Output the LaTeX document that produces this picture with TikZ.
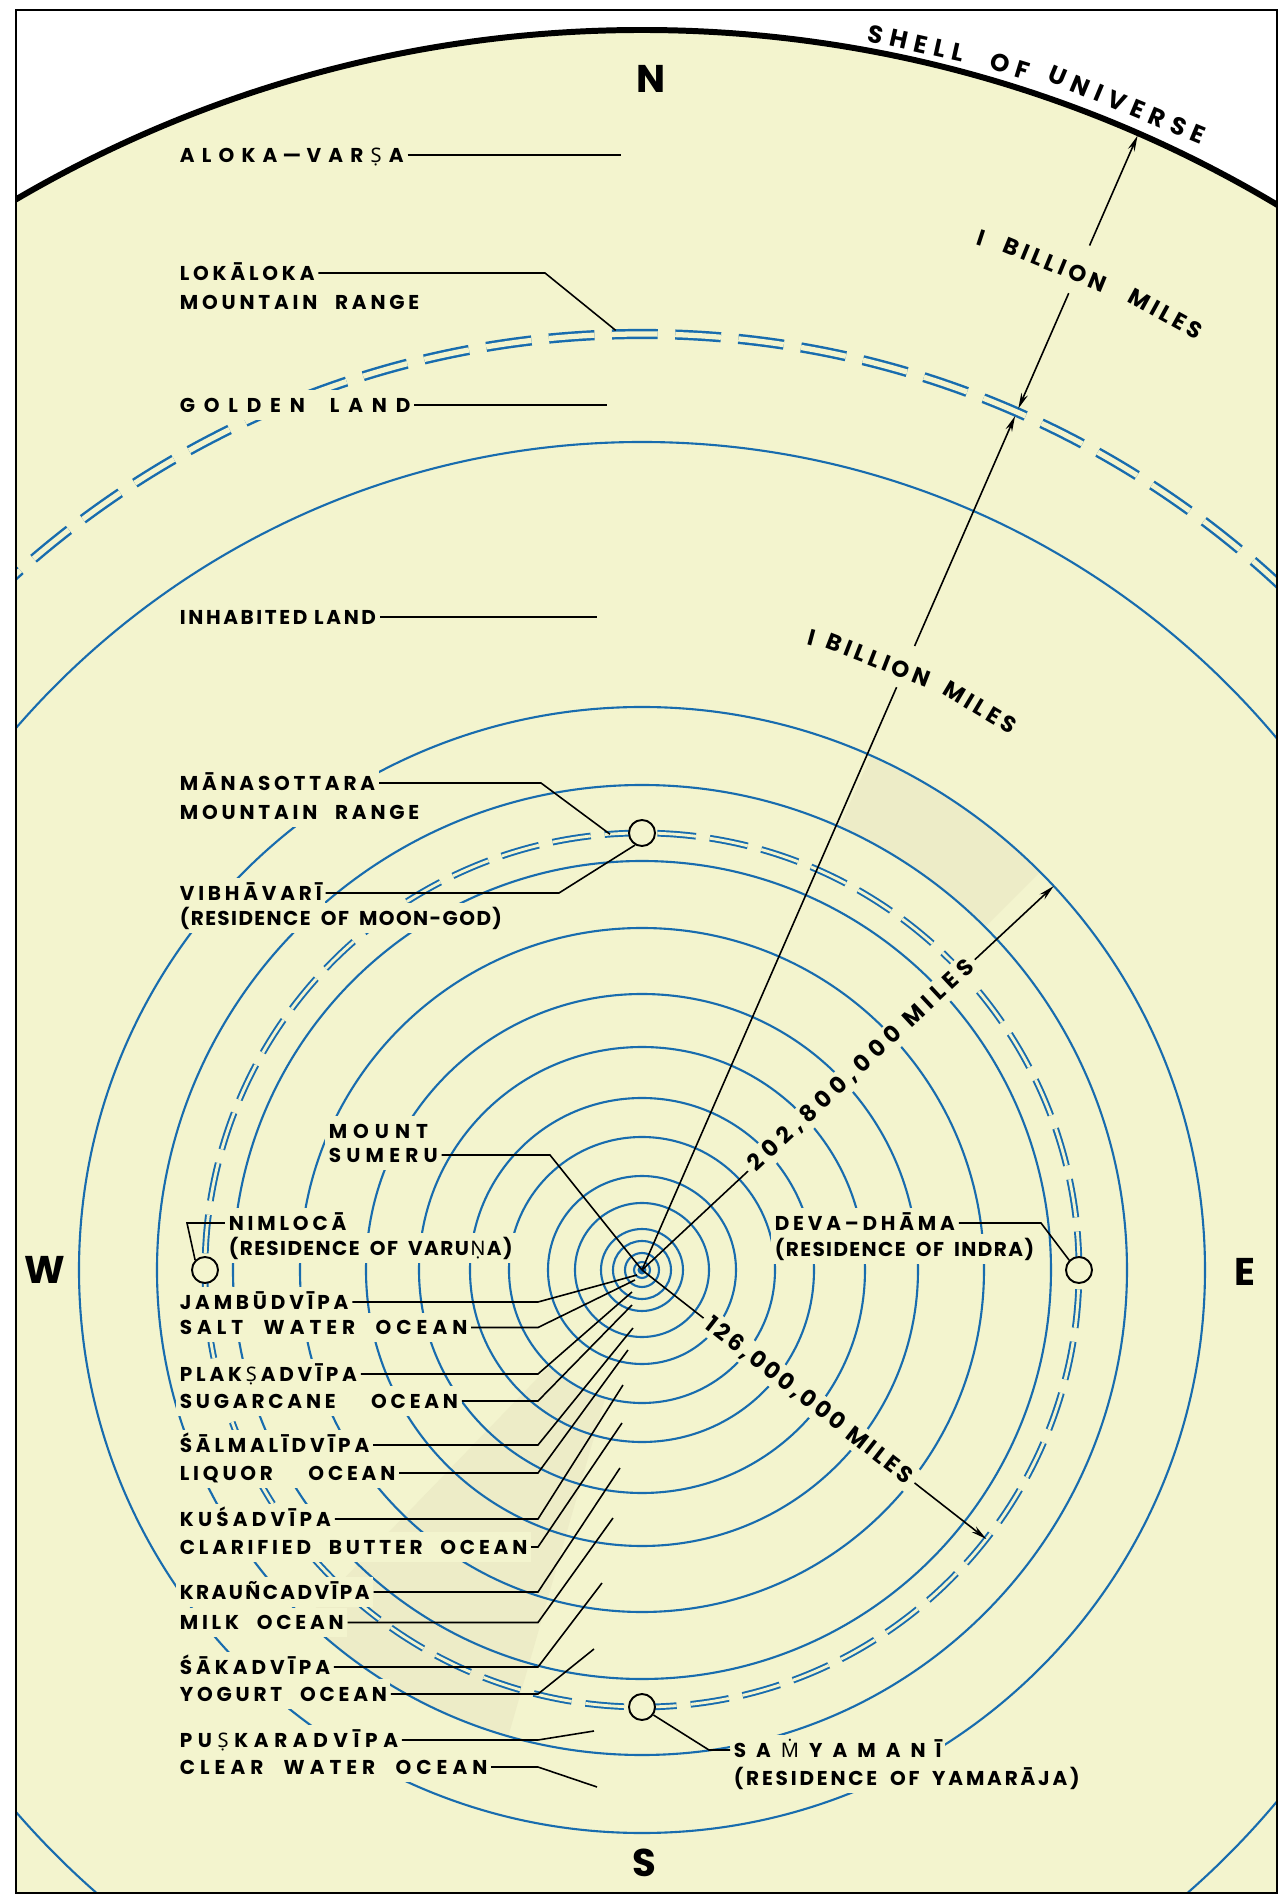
\documentclass[tikz,border=0pt]{standalone}
\usepackage{fontspec}
\setmainfont{Poppins}
\newfontfamily\lblfam{Poppins}[LetterSpace=19,WordSpace=2.2]
\newfontfamily\parenfam{Poppins}[LetterSpace=7,WordSpace=1.8]
\newfontfamily\inhabfam{Poppins}[LetterSpace=13]
\newfontfamily\arcfam{Poppins}[LetterSpace=17]
\newfontfamily\shellfam{Poppins}[LetterSpace=28]
\newfontfamily\dotfam{Noto Sans}
\usetikzlibrary{arrows.meta}

\definecolor{paper}{RGB}{243,244,206}
\definecolor{ringblue}{RGB}{24,108,174}
\definecolor{tone}{RGB}{237,236,199}

\newcommand{\lblfont}{\lblfam\fontsize{11.4}{13}\bfseries}
\newcommand{\parenfont}{\parenfam\fontsize{11.4}{13}\bfseries}
\newcommand{\inhabfont}{\inhabfam\fontsize{11.4}{13}\bfseries}
\newcommand{\compassfont}{\fontsize{22}{24}\bfseries}
\newcommand{\milesfont}{\fontsize{13}{15}\bfseries}
\newcommand{\arcfont}{\arcfam\fontsize{13}{15}\bfseries}
\newcommand{\shellfont}{\shellfam\fontsize{14}{16}\bfseries}
% letter with a dot, set in Noto Sans, spaced like its neighbours
\newcommand{\dotglyph}[2]{\kern#1{\dotfam #2}\kern#1}

\tikzset{
  lbl/.style={font=\lblfont, fill=paper, anchor=west, inner xsep=2pt, inner ysep=4.5pt, text height=8pt, text depth=0pt},
  parenlbl/.style={lbl, font=\parenfont},
  leader/.style={line width=0.9pt},
  ringline/.style={draw=ringblue, line width=1.2pt},
  residence/.style={circle, draw, fill=paper, line width=1.1pt, minimum size=0.52cm, inner sep=0pt},
  miles/.style={fill=paper, inner xsep=3pt, inner ysep=2pt},
  arcword/.style={font=\arcfont, inner sep=0pt, text height=9pt, text depth=0pt},
  shellword/.style={font=\shellfont, inner sep=0pt, text height=9.8pt, text depth=0pt},
  miletip/.style={-{Stealth[length=9pt,width=4pt]}}
}

\begin{document}
\begin{tikzpicture}[x=0.02cm,y=0.02cm]
  \useasboundingbox (-642,-627) rectangle (646,1270);
  \fill[white] (-642,-627) rectangle (646,1270);
  \coordinate (C) at (0,0);

  % the universe: rings, mountain ranges, shell
  \begin{scope}
    \clip (-626,-623) rectangle (635,1260);
    \fill[paper] (C) circle[radius=1238];
    \fill[tone] (45:485) arc[start angle=45,end angle=66,radius=485] -- (66:563) arc[start angle=66,end angle=45,radius=563] -- cycle;
    \fill[tone] (226:133) arc[start angle=226,end angle=254,radius=133] -- (254:485) arc[start angle=254,end angle=226,radius=485] -- cycle;
    \foreach \r in {8,17,29,41,67,94,133,172,223,276,342,409,485,563,828}
      \draw[ringline] (C) circle[radius=\r];
    \draw[ringblue, line width=1.1pt, double=paper, double distance=1.6pt, dash pattern=on 22pt off 8pt] (C) circle[radius=437];
    \draw[ringblue, line width=1.4pt, double=paper, double distance=3pt, dash pattern=on 26pt off 10pt] (C) circle[radius=936];
    \draw[line width=3.4pt] (C) circle[radius=1240];
  \end{scope}
  \draw[line width=0.9pt] (-626,-623) rectangle (635,1260);
  \fill[ringblue] (C) circle[radius=4.5];

  \node[residence] (vib) at (90:437) {};
  \node[residence] (nim) at (180:437) {};
  \node[residence] (deva) at (0:437) {};
  \node[residence] (yama) at (270:437) {};

  \node[font=\compassfont] (cN) at (9,1191) {N};
  \node[font=\compassfont] (cW) at (-597,0) {W};
  \node[font=\compassfont] (cE) at (603,-2) {E};
  \node[font=\compassfont] (cS) at (2,-593) {S};

  % labels above the centre
  \node[lbl, font=\lblfont\addfontfeature{LetterSpace=36}] (aloka) at (-466,1115) {ALOKA\kern3pt—\kern3pt VAR\dotglyph{4.1pt}{Ṣ}A};
  \coordinate (t-aloka) at (-21,1115);
  \draw[leader] (aloka.east) -- (t-aloka);

  \node[lbl] (loka1) at (-466,997) {LOKĀLOKA};
  \node[lbl] (loka2) at (-466,968) {MOUNTAIN RANGE};
  \coordinate (k-loka) at (-97,0);
  \coordinate (t-loka) at (91.6:940);
  \draw[leader] (loka1.east) -- (loka1.east -| k-loka) -- (t-loka);

  \node[lbl, font=\lblfont\addfontfeature{LetterSpace=44}] (golden) at (-466,865) {GOLDEN\hspace{1.25em}LAND};
  \coordinate (t-golden) at (-35,865);
  \draw[leader] (golden.east) -- (t-golden);

  \node[lbl, font=\inhabfont] (inhab) at (-466,653) {INHABITED LAND};
  \coordinate (t-inhab) at (-45,653);
  \draw[leader] (inhab.east) -- (t-inhab);

  \node[lbl] (manasa1) at (-466,487) {MĀNASOTTARA};
  \node[lbl] (manasa2) at (-466,458) {MOUNTAIN RANGE};
  \coordinate (k-manasa) at (-101,0);
  \coordinate (t-manasa) at (94.2:437);
  \draw[leader] (manasa1.east) -- (manasa1.east -| k-manasa) -- (t-manasa);

  \node[lbl] (vibh1) at (-466,377) {VIBHĀVARĪ};
  \node[parenlbl] (vibh2) at (-466,352) {(RESIDENCE OF MOON-GOD)};
  \coordinate (k-vibh) at (-83,0);
  \draw[leader] (vibh1.east) -- (vibh1.east -| k-vibh) -- (vib.240);

  \node[lbl, font=\lblfont\addfontfeature{LetterSpace=30}] (sumeru1) at (-317,139) {MOUNT};
  \node[lbl, font=\lblfont\addfontfeature{LetterSpace=26}] (sumeru2) at (-317,115) {SUMERU};
  \coordinate (k-sumeru) at (-92,0);
  \draw[leader] (sumeru2.east) -- (sumeru2.east -| k-sumeru) -- (C);

  % the four residences
  \node[lbl] (nim1) at (-417,47) {NIMLOCĀ};
  \node[parenlbl] (nim2) at (-417,22) {(RESIDENCE OF VARU\dotglyph{0.8pt}{Ṇ}A)};
  \coordinate (k-nim) at (-455,0);
  \draw[leader] (nim1.west) -- (nim1.west -| k-nim) -- (nim.north west);

  \node[lbl] (deva1) at (129,47) {DEVA–DHĀMA};
  \node[parenlbl] (deva2) at (129,21) {(RESIDENCE OF INDRA)};
  \coordinate (k-deva) at (399,0);
  \draw[leader] (deva1.east) -- (deva1.east -| k-deva) -- (deva.north west);

  \node[lbl, font=\lblfont\addfontfeature{LetterSpace=50}] (samy1) at (88,-480) {SA\dotglyph{5.7pt}{Ṁ}YAMANĪ};
  \node[parenlbl, font=\parenfont\addfontfeature{LetterSpace=14}] (samy2) at (88,-508) {(RESIDENCE OF YAMARĀJA)};
  \coordinate (k-samy) at (67,0);
  \draw[leader] (yama.-35) -- (samy1.west -| k-samy) -- (samy1.west);

  % islands and oceans
  \coordinate (k-ring) at (-104,0);
  \foreach \nm/\txt/\ls/\y/\tx/\ty in {
      jambu/JAMBŪDVĪPA/19/-32/-5/-5,
      salt/SALT WATER OCEAN/25/-57.5/-7/-10,
      plaksa/PLAK\dotglyph{2.2pt}{Ṣ}ADVĪPA/19/-104/-10/-22,
      sugar/SUGARCANE~~OCEAN/19/-131/-10/-35,
      salmali/ŚĀLMALĪDVĪPA/19/-175/-9/-58,
      liquor/LIQUOR~~OCEAN/19/-203/-14/-80,
      kusa/KUŚADVĪPA/21/-249/-19/-115,
      butter/CLARIFIED BUTTER OCEAN/19/-277/-20/-153,
      kraunca/KRAUÑCADVĪPA/12/-322/-22/-198,
      milk/MILK OCEAN/19/-352.5/-29/-248,
      saka/ŚĀKADVĪPA/20/-397/-40/-313,
      yogurt/YOGURT OCEAN/19/-424/-48/-379,
      puskara/PU\dotglyph{3.2pt}{Ṣ}KARADVĪPA/28/-470/-48/-461,
      clear/CLEAR WATER OCEAN/25/-497/-45/-517} {
    \node[lbl, font=\lblfont\addfontfeature{LetterSpace=\ls}] (\nm) at (-466,\y) {\txt};
    \coordinate (\nm-end) at (\tx,\ty);
    \draw[leader] (\nm.east) -- (\nm.east -| k-ring) -- (\nm-end);
  }

  % distances
  \node[miles, font=\milesfont\addfontfeature{LetterSpace=25}, rotate=43] (d202) at (43:300) {202,800,000 MILES};
  \coordinate (t202) at (43:563);
  \draw[leader] (C) -- (d202.west);
  \draw[leader, miletip] (d202.east) -- (t202);

  \node[miles, font=\milesfont\addfontfeature{LetterSpace=14}, rotate=-38] (d126) at (-38:212) {126,000,000 MILES};
  \coordinate (t126) at (-38:437);
  \draw[leader] (C) -- (d126.west);
  \draw[leader, miletip] (d126.east) -- (t126);

  \coordinate (b0) at (66.4:636);
  \coordinate (b1) at (66.4:681);
  \coordinate (t-lower) at (66.4:932);
  \draw[leader] (C) -- (b0);
  \draw[leader, miletip] (b1) -- (t-lower);
  \node[arcword, rotate=-15] (lowI) at (75:655) {I};
  \node[arcword, rotate=-21.2] (lowB) at (68.8:654) {BILLION};
  \node[arcword, rotate=-31] (lowM) at (59:656) {MILES};

  \coordinate (u0) at (66.4:940);
  \coordinate (u1) at (66.4:1066);
  \coordinate (u2) at (66.4:1118);
  \coordinate (u3) at (66.4:1238);
  \draw[leader, miletip] (u1) -- (u0);
  \draw[leader, miletip] (u2) -- (u3);
  \node[arcword, rotate=-18.2] (upI) at (71.8:1086) {I};
  \node[arcword, rotate=-22.3] (upB) at (67.66:1087) {BILLION};
  \node[arcword, rotate=-28.7] (upM) at (61.3:1090) {MILES};

  \node[shellword, rotate=-12.6] (shell1) at (77.4:1257) {SHELL};
  \node[shellword, rotate=-17] (shell2) at (73:1259) {OF};
  \node[shellword, rotate=-22.6] (shell3) at (67.4:1262) {UNIVERSE};
\end{tikzpicture}
\end{document}
